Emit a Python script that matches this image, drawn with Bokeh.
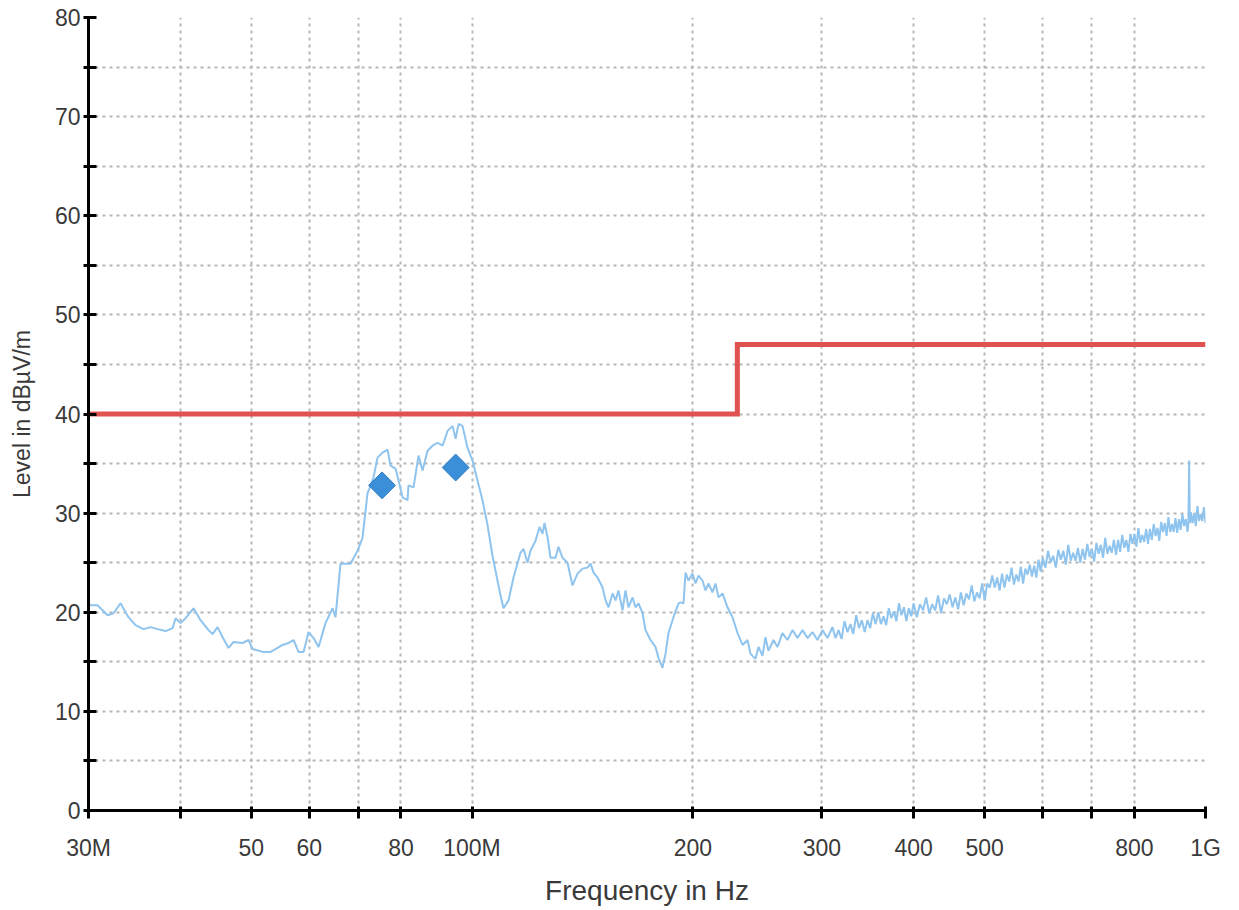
import math
from bokeh.plotting import figure
from bokeh.models import Range1d, FixedTicker
from bokeh.embed import file_html
from bokeh.resources import INLINE

# ---- measured trace, 30 MHz .. 310 MHz (frequency in MHz, level in dBuV/m)
low_freq = [30.0, 30.19, 30.86, 31.85, 32.45, 33.17, 34.01, 34.77, 35.66, 36.45,
            37.26, 38.21, 39.06, 39.43, 40.05, 40.69, 41.72, 42.65, 43.73, 44.29,
            44.98, 45.69, 46.56, 47.30, 48.65, 49.58, 50.20, 51.81, 53.13, 54.31,
            55.17, 56.22, 57.11, 58.01, 58.93, 59.86, 60.81, 61.77, 63.13, 64.54,
            65.15, 66.18, 68.29, 69.81, 70.91, 72.03, 73.40, 74.33, 75.50, 76.70,
            77.42, 78.65, 79.39, 80.39, 81.67, 81.92, 83.22, 84.54, 85.61, 86.97,
            88.35, 89.74, 91.17, 92.61, 94.08, 94.97, 95.87, 97.05, 98.59, 100.15,
            101.73, 103.34, 104.98, 106.64, 107.65, 109.35, 110.39, 112.14, 113.91, 116.44,
            117.54, 119.03, 120.15, 122.05, 123.59, 124.76, 125.55, 126.74, 127.94, 129.96,
            131.19, 132.85, 134.95, 137.09, 139.26, 141.47, 143.71, 145.07, 146.45, 148.30,
            150.65, 152.07, 153.51, 155.45, 156.92, 158.37, 160.38, 161.90, 163.43, 165.50,
            167.07, 168.65, 170.78, 172.40, 175.13, 177.88, 179.57, 181.84, 183.56, 185.29,
            188.23, 191.21, 192.42, 194.24, 195.46, 197.31, 199.80, 201.69, 203.60, 206.17,
            208.12, 210.09, 212.74, 214.76, 216.79, 219.53, 223.01, 226.54, 230.14, 233.79,
            237.49, 239.7, 243.5, 245.8, 248.9, 251.2, 253.6, 257.6, 260.9, 265.0,
            269.2, 273.5, 277.8, 282.2, 286.7, 291.2, 295.8, 300.5, 305.3]
low_level = [20.9, 20.7, 20.7, 19.7, 19.9, 20.9, 19.5, 18.7, 18.3, 18.5,
             18.3, 18.1, 18.4, 19.4, 18.9, 19.4, 20.4, 19.2, 18.2, 17.8,
             18.5, 17.5, 16.4, 17.0, 16.9, 17.2, 16.3, 16.0, 16.0, 16.4,
             16.7, 16.9, 17.2, 16.0, 16.0, 18.0, 17.4, 16.5, 18.9, 20.4,
             19.5, 24.9, 24.9, 26.2, 27.5, 32.0, 33.6, 35.6, 36.1, 36.4,
             34.8, 34.5, 33.3, 31.6, 31.3, 32.8, 32.6, 35.8, 34.3, 36.3,
             36.8, 37.1, 36.8, 38.3, 38.8, 37.5, 39.0, 38.8, 36.6, 35.3,
             33.3, 31.3, 28.8, 25.7, 24.2, 21.7, 20.4, 21.2, 23.5, 26.0,
             26.4, 25.0, 26.2, 27.2, 28.6, 27.9, 29.0, 27.6, 25.5, 25.5,
             26.6, 25.5, 25.0, 22.7, 23.9, 24.4, 24.5, 24.9, 24.0, 23.5,
             22.5, 21.2, 20.5, 21.9, 21.2, 22.2, 20.2, 22.2, 20.5, 21.5,
             20.5, 20.9, 19.9, 18.2, 17.2, 16.5, 15.4, 14.4, 15.8, 17.9,
             19.5, 20.9, 21.0, 20.9, 24.0, 23.2, 23.9, 22.9, 23.7, 23.2,
             22.2, 22.9, 22.0, 22.9, 21.5, 21.9, 20.5, 19.5, 17.9, 16.7,
             17.2, 15.8, 15.3, 16.5, 15.6, 17.5, 16.1, 17.2, 16.5, 17.9,
             17.2, 18.2, 17.4, 18.2, 17.4, 18.0, 17.2, 18.2, 17.4]

# ---- measured trace, 310 MHz .. 400 MHz
mid_a_freq = [310, 313, 316, 319, 322, 325, 328, 331, 334, 337,
              340, 343, 346, 349, 352, 355, 358, 361, 364, 367,
              370, 373, 376, 379, 382, 385, 388, 391, 394, 397]
mid_a_level = [18.5, 17.4, 18.2, 17.3, 19.1, 18.0, 18.8, 17.8, 19.7, 18.4,
               19.2, 18.0, 19.2, 18.4, 19.9, 18.8, 20.0, 18.8, 19.6, 18.7,
               20.4, 19.4, 20.1, 19.1, 20.9, 19.7, 20.5, 19.1, 20.4, 19.6]

# ---- measured trace, 400 MHz .. 600 MHz
mid_b_freq = [400, 404, 408, 412, 416, 420, 424, 428, 432, 436,
              440, 444, 448, 452, 456, 460, 464, 468, 472, 476,
              480, 484, 488, 492, 496, 500, 504, 508, 512, 516,
              520, 524, 528, 532, 536, 540, 544, 548, 552, 556,
              560, 564, 568, 572, 576, 580, 584, 588, 592, 596]
mid_b_level = [20.9, 19.5, 20.8, 20.2, 21.5, 19.9, 20.8, 20.2, 21.7, 19.9,
               21.4, 20.8, 21.8, 20.5, 21.5, 20.3, 22.0, 20.7, 21.9, 21.3,
               22.7, 21.1, 22.0, 21.4, 22.9, 21.2, 22.9, 22.5, 23.7, 22.5,
               23.5, 22.2, 23.9, 22.5, 23.8, 23.1, 24.5, 22.8, 23.8, 23.1,
               24.6, 22.9, 24.4, 23.8, 24.8, 23.6, 24.7, 23.5, 25.3, 24.1]

# ---- measured trace, 600 MHz .. 1 GHz
high_freq = [600, 605, 610, 615, 620, 625, 630, 635, 640, 645,
             650, 655, 660, 665, 670, 675, 680, 685, 690, 695,
             700, 705, 710, 715, 720, 725, 730, 735, 740, 745,
             750, 755, 760, 765, 770, 775, 780, 785, 790, 795,
             800, 805, 810, 815, 820, 825, 830, 835, 840, 845,
             850, 855, 860, 865, 870, 875, 880, 885, 890, 895,
             900, 905, 910, 915, 920, 925, 930, 935, 940, 945,
             948, 950, 952, 955, 960, 965, 970, 975, 980, 985,
             990, 995, 1000]
high_level = [25.5, 24.5, 26.2, 25.0, 25.7, 24.5, 26.3, 25.3, 26.2, 24.8,
              26.8, 25.2, 26.0, 25.2, 26.5, 25.0, 26.4, 25.3, 26.9, 25.6,
              26.4, 25.1, 27.0, 25.9, 26.8, 25.5, 27.5, 25.9, 26.7, 26.0,
              27.3, 25.8, 27.3, 26.1, 27.8, 26.5, 27.3, 26.1, 27.9, 26.9,
              27.9, 26.6, 28.5, 27.0, 27.8, 27.1, 28.4, 26.9, 28.4, 27.3,
              28.9, 27.7, 28.5, 27.2, 29.1, 28.1, 29.0, 27.7, 29.6, 28.1,
              28.9, 28.1, 29.5, 28.0, 29.4, 28.3, 29.9, 28.7, 29.4, 28.1,
              29.2, 35.3, 29.0, 30.1, 29.0, 30.0, 28.7, 30.7, 29.2, 29.9,
              29.2, 30.6, 29.0]

# ---- limit line (dBuV/m)
limit_freq = [30, 230, 230, 1000]
limit_level = [40, 40, 47, 47]

# ---- final measurement peaks
peak_freq = [75.4, 95.0]
peak_level = [32.8, 34.6]

# ---- axes
x_major = [30, 50, 60, 80, 100, 200, 300, 400, 500, 800, 1000]
x_minor = [40, 70, 600, 700]
x_labels = {30: "30M", 50: "50", 60: "60", 80: "80", 100: "100M", 200: "200",
            300: "300", 400: "400", 500: "500", 800: "800", 1000: "1G"}
y_major = [0, 10, 20, 30, 40, 50, 60, 70, 80]
y_minor = [5, 15, 25, 35, 45, 55, 65, 75]

trace_freq = low_freq + mid_a_freq + mid_b_freq + high_freq
trace_level = low_level + mid_a_level + mid_b_level + high_level

FONT = "Liberation Sans"
GRID = "#b5b5b5"

p = figure(width=1239, height=910, x_axis_type="log",
           x_range=Range1d(30, 1000), y_range=Range1d(0, 80),
           output_backend="svg", toolbar_location=None,
           min_border_left=88, min_border_right=34,
           min_border_top=17, min_border_bottom=100)
p.outline_line_color = None
p.background_fill_color = "white"
p.border_fill_color = "white"

xt = FixedTicker(ticks=x_major, minor_ticks=x_minor)
yt = FixedTicker(ticks=y_major, minor_ticks=y_minor)
p.xaxis.ticker = xt
p.yaxis.ticker = yt
p.xgrid.ticker = xt
p.ygrid.ticker = yt
p.xaxis.major_label_overrides = x_labels

for g in (p.xgrid, p.ygrid):
    g.grid_line_color = GRID
    g.grid_line_width = 2
    g.grid_line_dash = "3 4"
    g.minor_grid_line_color = GRID
    g.minor_grid_line_width = 2
    g.minor_grid_line_dash = "3 4"

for ax in (p.xaxis, p.yaxis):
    ax.axis_line_color = "black"
    ax.axis_line_width = 3
    ax.major_tick_line_color = "black"
    ax.minor_tick_line_color = "black"
    ax.major_tick_line_width = 3
    ax.minor_tick_line_width = 3
    ax.major_label_text_font = FONT
    ax.major_label_text_color = "#3a3a3a"
    ax.major_label_text_font_size = "23px"
    ax.axis_label_text_font = FONT
    ax.axis_label_text_font_style = "normal"
    ax.axis_label_text_color = "#3a3a3a"

p.yaxis.major_tick_in = 8
p.yaxis.major_tick_out = 5
p.yaxis.minor_tick_in = 8
p.yaxis.minor_tick_out = 5
p.yaxis.major_label_standoff = 3
p.yaxis.axis_label = "Level in dBµV/m"
p.yaxis.axis_label_text_font_size = "23px"
p.yaxis.axis_label_standoff = 17

p.xaxis.major_tick_in = 4
p.xaxis.major_tick_out = 8
p.xaxis.minor_tick_in = 4
p.xaxis.minor_tick_out = 8
p.xaxis.major_label_standoff = 16
p.xaxis.axis_label = "Frequency in Hz"
p.xaxis.axis_label_text_font_size = "28px"
p.xaxis.axis_label_standoff = 11

p.line(trace_freq, trace_level, line_color="#8fc4ee", line_width=2)
p.line(limit_freq, limit_level, line_color="#e0524f", line_width=5, line_join="miter")
p.scatter(peak_freq, peak_level, marker="square", angle=math.pi / 4, size=19,
          fill_color="#3a8fd8", line_color="#2d7dc4", line_width=1)

open("out.html", "w").write(file_html(p, INLINE))
